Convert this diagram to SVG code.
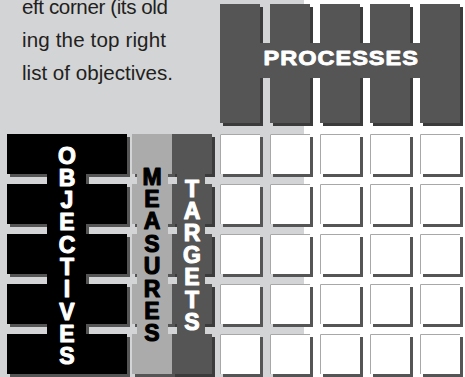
<svg xmlns="http://www.w3.org/2000/svg" width="465" height="377" viewBox="0 0 465 377">
<defs>
<style>
.bg{fill:#d3d4d6}
.para{font-family:"Liberation Sans",Arial,sans-serif;font-size:20.6px;fill:#231f20}
.proc{fill:#555555}
.procsh{fill:#3b3b3b}
.lbl{font-family:"Liberation Sans",Arial,sans-serif;font-weight:bold;font-size:23px;text-anchor:middle;stroke-width:1.1;stroke-linejoin:round}
.wl{fill:#ffffff;stroke:#ffffff}
.bl{fill:#000000;stroke:#000000}
.cell{fill:#ffffff}
.cellsh{fill:#555555}
.edge{fill:none;stroke:#a8a8a8;stroke-width:1}
</style>
<g id="cellproto">
<rect class="cellsh" x="3" y="3" width="40" height="40"/>
<rect class="cell" x="0" y="0" width="40" height="40"/>
<path class="edge" d="M0.5,40 V0.5 H40"/>
</g>
</defs>
<rect x="0" y="0" width="465" height="377" fill="#ffffff"/>
<rect class="bg" x="0" y="0" width="304" height="377"/>

<g id="intro-text">
<text class="para" x="22" y="14" textLength="146">eft corner (its old</text>
<text class="para" x="22" y="47" textLength="144">ing the top right</text>
<text class="para" x="22" y="80" textLength="151">list of objectives.</text>
</g>

<g id="processes">
<g class="procsh">
<rect x="223" y="7" width="40" height="119"/>
<rect x="273" y="7" width="40" height="119"/>
<rect x="323" y="7" width="40" height="119"/>
<rect x="373" y="7" width="40" height="119"/>
<rect x="423" y="7" width="40" height="119"/>
</g>
<g class="proc">
<rect x="220" y="4" width="40" height="119"/>
<rect x="270" y="4" width="40" height="119"/>
<rect x="320" y="4" width="40" height="119"/>
<rect x="370" y="4" width="40" height="119"/>
<rect x="420" y="4" width="40" height="119"/>
<rect x="220" y="43" width="240" height="35"/>
</g>
<text transform="translate(263.5,65) scale(1.12,1)" x="0" y="0" letter-spacing="0.9" font-family="'Liberation Sans',Arial,sans-serif" font-weight="bold" font-size="21" fill="#ffffff" stroke="#ffffff" stroke-width="0.9" stroke-linejoin="round">PROCESSES</text>
</g>

<g id="objectives">
<path fill="#555555" d="M10,137h120v40h-120zM10,187h120v40h-120zM10,237h120v40h-120zM10,287h120v40h-120zM10,337h120v40h-120zM50,137h39v240h-39z"/>
<path fill="#000000" d="M7,134h120v40h-120zM7,184h120v40h-120zM7,234h120v40h-120zM7,284h120v40h-120zM7,334h120v40h-120zM47,134h39v240h-39z"/>
<text class="lbl wl"><tspan x="67" y="163.5">O</tspan><tspan x="67" dy="22.3">B</tspan><tspan x="67" dy="22.3">J</tspan><tspan x="67" dy="22.3">E</tspan><tspan x="67" dy="22.3">C</tspan><tspan x="67" dy="22.3">T</tspan><tspan x="67" dy="22.3">I</tspan><tspan x="67" dy="22.3">V</tspan><tspan x="67" dy="22.3">E</tspan><tspan x="67" dy="22.3">S</tspan></text>
</g>

<g id="measures">
<path fill="#555555" d="M135,137h40v40h-40zM135,187h40v40h-40zM135,237h40v40h-40zM135,287h40v40h-40zM135,337h40v40h-40z"/>
<path fill="#ababab" d="M132,134h40v40h-40zM132,184h40v40h-40zM132,234h40v40h-40zM132,284h40v40h-40zM132,334h40v40h-40zM137,134h31v240h-31z"/>
<text class="lbl bl"><tspan x="152" y="184.5">M</tspan><tspan x="152" dy="22.4">E</tspan><tspan x="152" dy="22.4">A</tspan><tspan x="152" dy="22.4">S</tspan><tspan x="152" dy="22.4">U</tspan><tspan x="152" dy="22.4">R</tspan><tspan x="152" dy="22.4">E</tspan><tspan x="152" dy="22.4">S</tspan></text>
</g>

<g id="targets">
<path fill="#3b3b3b" d="M175,137h40v40h-40zM175,187h40v40h-40zM175,237h40v40h-40zM175,287h40v40h-40zM175,337h40v40h-40z"/>
<path fill="#555555" d="M172,134h40v40h-40zM172,184h40v40h-40zM172,234h40v40h-40zM172,284h40v40h-40zM172,334h40v40h-40zM177,134h28v240h-28z"/>
<text class="lbl wl"><tspan x="192" y="196.5">T</tspan><tspan x="192" dy="22.2">A</tspan><tspan x="192" dy="22.2">R</tspan><tspan x="192" dy="22.2">G</tspan><tspan x="192" dy="22.2">E</tspan><tspan x="192" dy="22.2">T</tspan><tspan x="192" dy="22.2">S</tspan></text>
</g>

<g id="matrix">
<use href="#cellproto" x="220" y="134"/><use href="#cellproto" x="270" y="134"/><use href="#cellproto" x="320" y="134"/><use href="#cellproto" x="370" y="134"/><use href="#cellproto" x="420" y="134"/>
<use href="#cellproto" x="220" y="184"/><use href="#cellproto" x="270" y="184"/><use href="#cellproto" x="320" y="184"/><use href="#cellproto" x="370" y="184"/><use href="#cellproto" x="420" y="184"/>
<use href="#cellproto" x="220" y="234"/><use href="#cellproto" x="270" y="234"/><use href="#cellproto" x="320" y="234"/><use href="#cellproto" x="370" y="234"/><use href="#cellproto" x="420" y="234"/>
<use href="#cellproto" x="220" y="284"/><use href="#cellproto" x="270" y="284"/><use href="#cellproto" x="320" y="284"/><use href="#cellproto" x="370" y="284"/><use href="#cellproto" x="420" y="284"/>
<use href="#cellproto" x="220" y="334"/><use href="#cellproto" x="270" y="334"/><use href="#cellproto" x="320" y="334"/><use href="#cellproto" x="370" y="334"/><use href="#cellproto" x="420" y="334"/>
</g>
</svg>
